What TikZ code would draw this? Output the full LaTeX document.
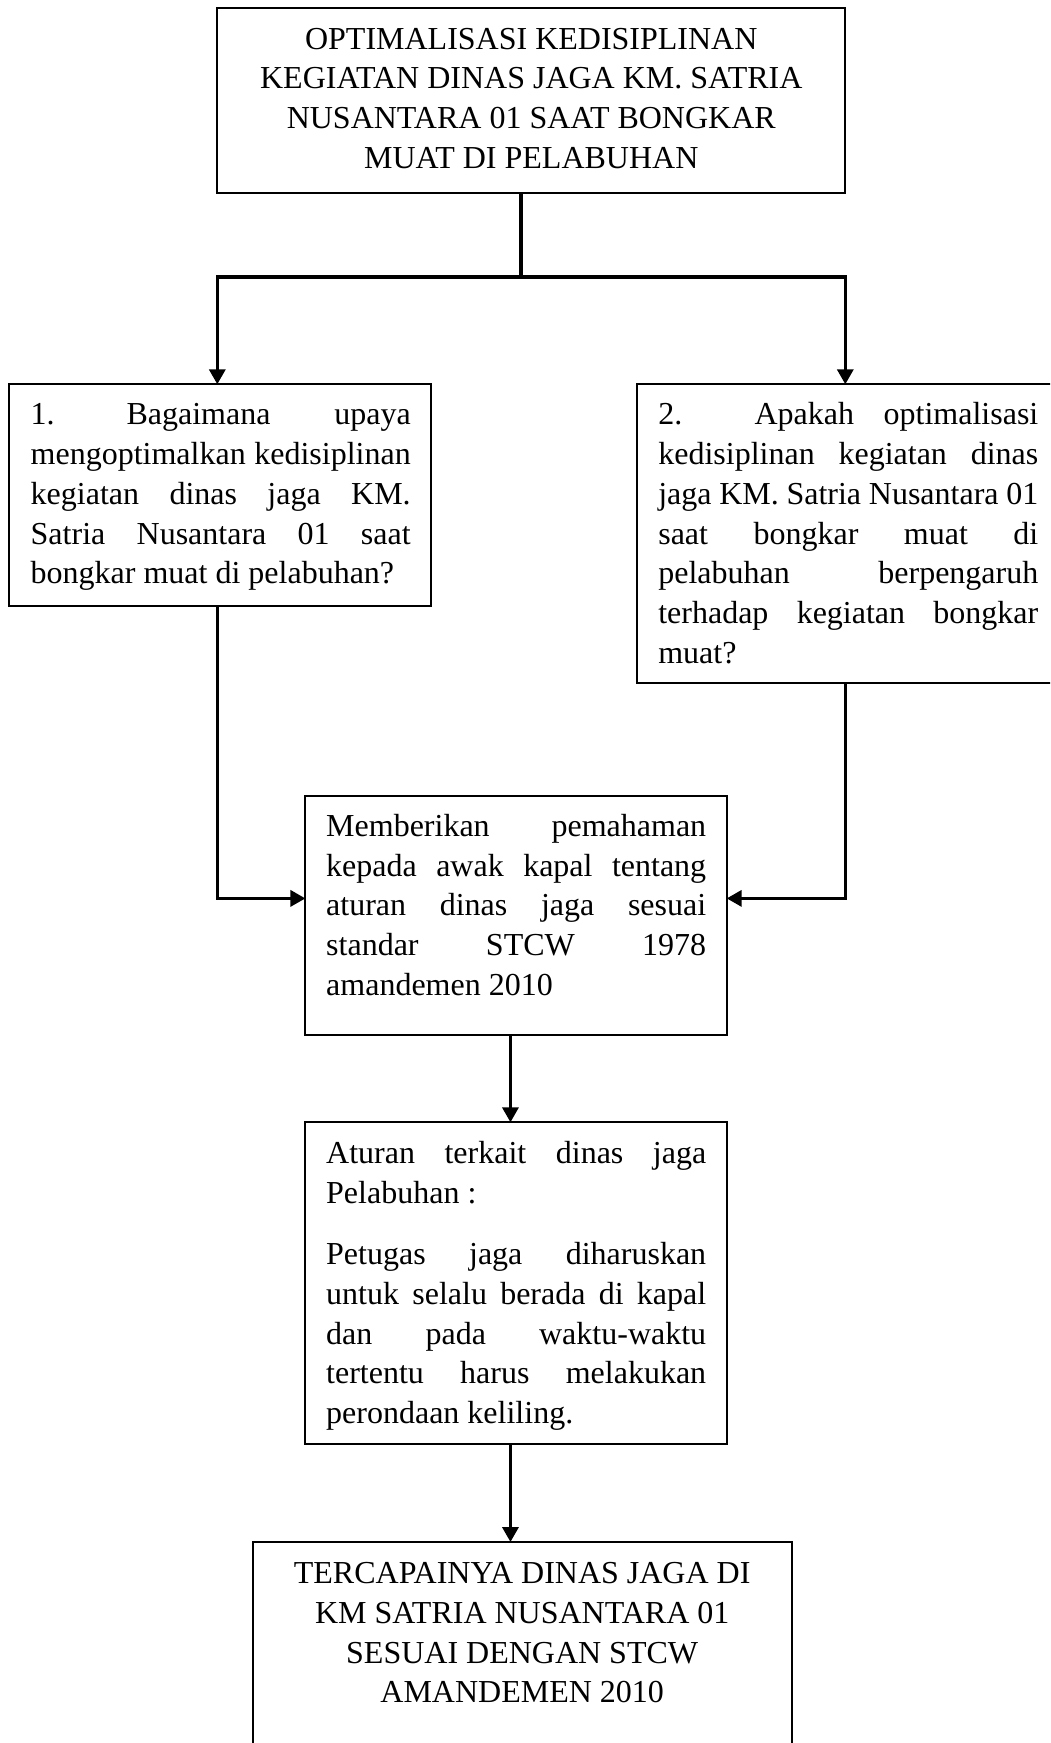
\documentclass[tikz,border=0pt]{standalone}
\usepackage{fontspec}
\setmainfont{Liberation Serif}
\usetikzlibrary{arrows.meta,calc,fit}
\newcommand\fsz{\fontsize{12pt}{14.89pt}\selectfont\frenchspacing\tolerance=10000\hyphenpenalty=10000\exhyphenpenalty=10000\parindent=0pt\relax}
\begin{document}
\begin{tikzpicture}[x=0.375pt,y=-0.375pt,
  boxnode/.style={draw,line width=0.7pt,inner sep=0pt,outer sep=0pt},
  jtxt/.style={inner sep=0pt,outer sep=0pt,text width=142.5pt,align=justify,anchor=north west,font=\fsz},
  ctxt/.style={inner sep=0pt,outer sep=0pt,align=center,anchor=north,font=\fsz},
  conn/.style={line width=1.2pt},
  arr/.style={conn,-{Triangle[length=5.6pt,width=6pt]}}]
\useasboundingbox (0,0) rectangle (1050,1743);
\fill[white] (0,0) rectangle (1050,1743);
\begin{scope}
\clip (0,0) rectangle (1050,1743);
% boxes
\node[boxnode,fit={(217.3,8.3) (845.3,193.3)}] (T) {};
\node[boxnode,fit={(9.3,384.3) (430.7,606)}] (A) {};
\node[boxnode,fit={(636.7,384.3) (1058,683.3)}] (B) {};
\node[boxnode,fit={(305.4,796.2) (726.7,1035.4)}] (C) {};
\node[boxnode,fit={(305.4,1122.3) (726.7,1444.4)}] (D) {};
\node[boxnode,fit={(252.6,1542) (791.7,1800)}] (E) {};
% texts
\node[ctxt] (tT) at (531.3,21.5) {\strut OPTIMALISASI KEDISIPLINAN\\KEGIATAN DINAS JAGA KM. SATRIA\\NUSANTARA 01 SAAT BONGKAR\\MUAT DI PELABUHAN};
\node[jtxt] (tA) at (30.7,397.2) {\strut 1. \hspace{3pt}Bagaimana upaya\linebreak mengoptimalkan kedisiplinan\linebreak kegiatan dinas jaga KM.\linebreak Satria Nusantara 01 saat\linebreak bongkar muat di pelabuhan?};
\node[jtxt] (tB) at (658.3,397.2) {\strut 2. \hspace{16pt}Apakah optimalisasi\linebreak kedisiplinan kegiatan dinas\linebreak jaga KM. Satria Nusantara 01\linebreak saat bongkar muat di\linebreak pelabuhan berpengaruh\linebreak terhadap kegiatan bongkar\linebreak muat?};
\node[jtxt] (tC) at (326.2,808.6) {\strut Memberikan pemahaman\linebreak kepada awak kapal tentang\linebreak aturan dinas jaga sesuai\linebreak standar STCW 1978\linebreak amandemen 2010};
\node[jtxt] (tD) at (326.2,1135.8) {\strut Aturan terkait dinas jaga\linebreak Pelabuhan :\\[8.1pt]Petugas jaga diharuskan\linebreak untuk selalu berada di kapal\linebreak dan pada waktu-waktu\linebreak tertentu harus melakukan\linebreak perondaan keliling.};
\node[ctxt] (tE) at (522.2,1556) {\strut TERCAPAINYA DINAS JAGA DI\\KM SATRIA NUSANTARA 01\\SESUAI DENGAN STCW\\AMANDEMEN 2010};
% connectors
\coordinate (J) at (521,277);
\draw[conn] (T.south -| J) -- (J);
\draw[arr] (J) -| (T.west |- A.north);
\draw[arr] (J) -| (T.east |- B.north);
\coordinate (cl) at ($(C.west)+(0,-17.4)$);
\coordinate (cr) at ($(C.east)+(0,-17.4)$);
\draw[arr] (T.west |- A.south) |- (cl);
\draw[arr] (T.east |- B.south) |- (cr);
\coordinate (cx) at ($(C.south)+(-5.6,0)$);
\draw[arr] (cx) -- (cx |- D.north);
\coordinate (dx) at ($(D.south)+(-5.6,0)$);
\draw[arr] (dx) -- (dx |- E.north);
\end{scope}
\end{tikzpicture}
\end{document}
